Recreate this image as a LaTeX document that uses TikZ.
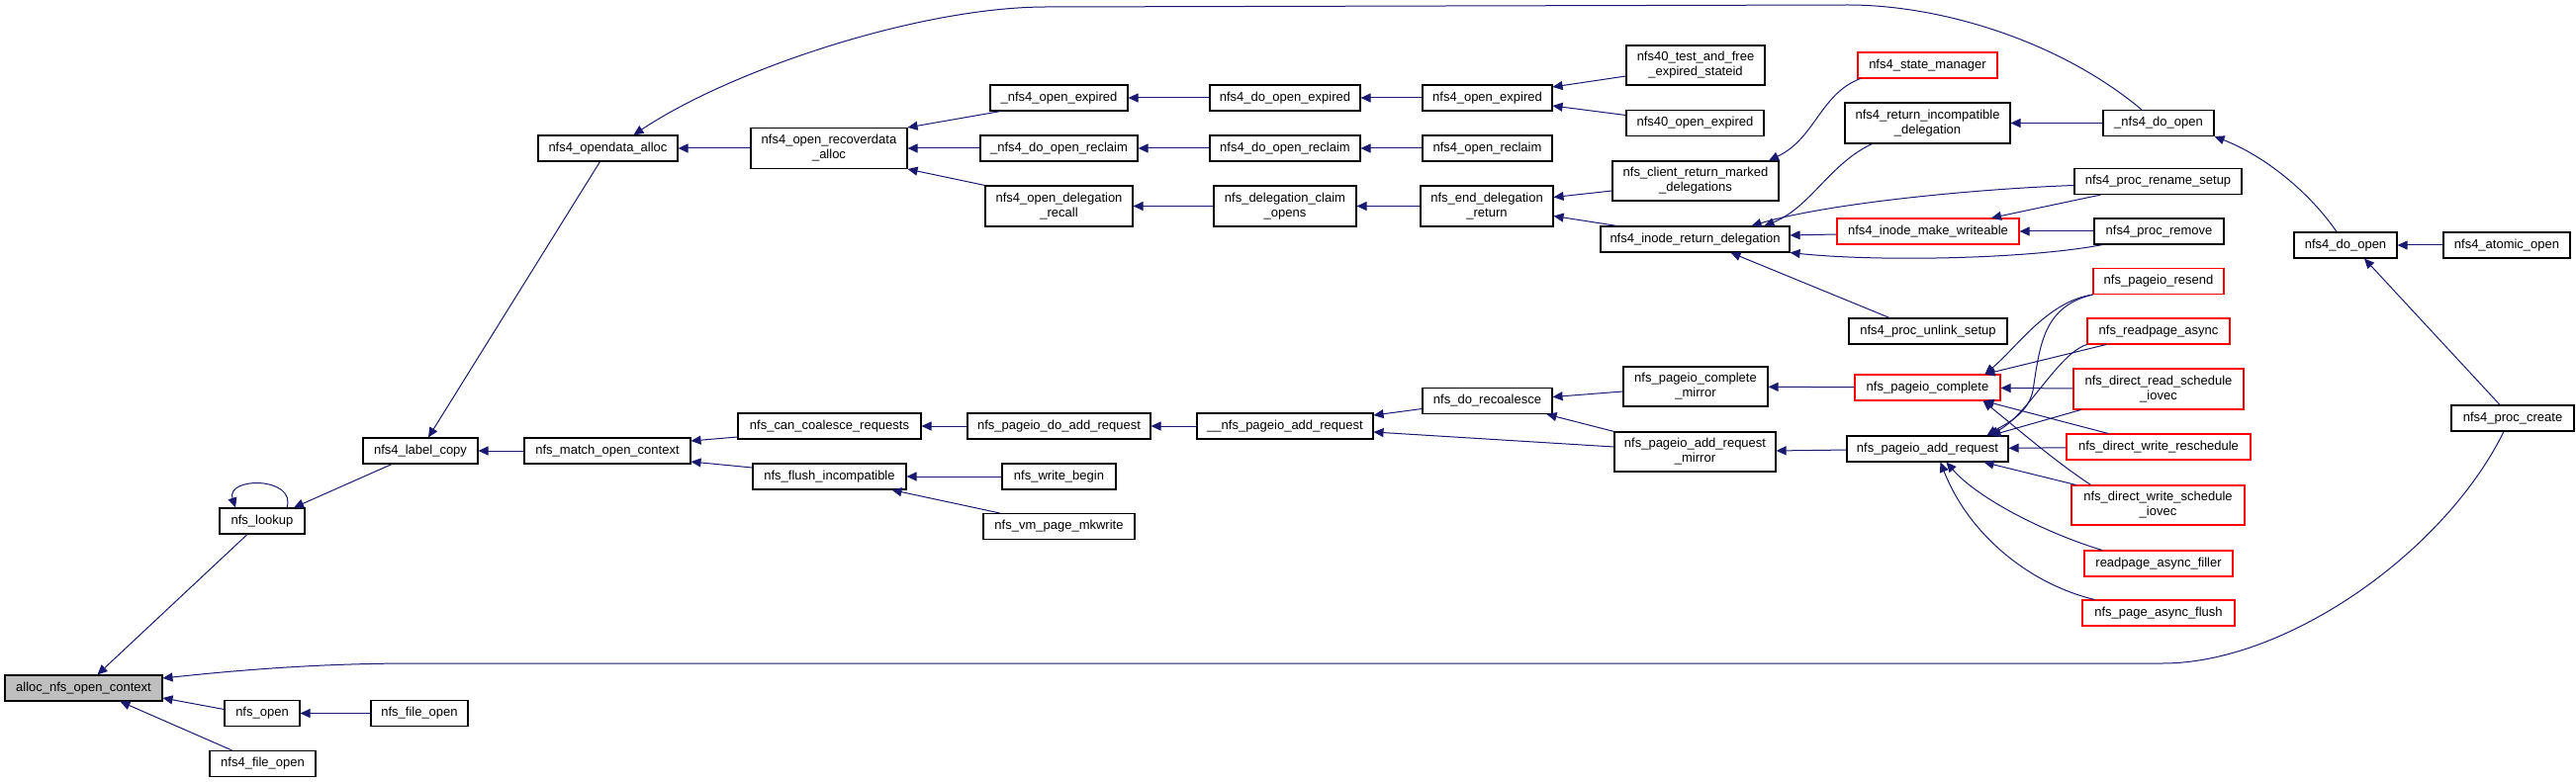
\documentclass[tikz,border=0pt]{standalone}
\usepackage{fontspec}
\setmainfont{Liberation Sans}
\usetikzlibrary{arrows.meta}
\definecolor{edgec}{RGB}{25,25,112}
\definecolor{redc}{RGB}{255,0,0}
\definecolor{grayc}{RGB}{191,191,191}
\begin{document}
\begin{tikzpicture}[x=1pt,y=-1pt,
  fn/.style={draw=black,line width=1.1pt,fill=white,inner sep=0pt,minimum height=26pt,
    font=\fontsize{13}{15}\selectfont,align=center},
  fntwo/.style={fn,minimum height=41pt},
  redbox/.style={draw=redc},
  arr/.style={draw=edgec,line width=1pt,-{Triangle[length=10pt,width=9pt]}}]
\useasboundingbox[fill=white] (0,0) rectangle (2604,791);
% nodes
\node[fn,fill=grayc,minimum width=159pt] (alloc) at (84.5,696) {alloc\_nfs\_open\_context};
\node[fn,minimum width=86pt] (lookup) at (265,527) {nfs\_lookup};
\node[fn,minimum width=76pt] (nopen) at (265,721.5) {nfs\_open};
\node[fn,minimum width=107pt] (nffo) at (265.5,772.5) {nfs4\_file\_open};
\node[fn,minimum width=98pt] (fopen) at (424,721.5) {nfs\_file\_open};
\node[fn,minimum width=116pt] (label) at (425,456) {nfs4\_label\_copy};
\node[fn,minimum width=141pt] (opendata) at (614.5,150) {nfs4\_opendata\_alloc};
\node[fn,minimum width=168pt] (match) at (614,456) {nfs\_match\_open\_context};
\node[fntwo,minimum width=158pt] (recover) at (838,150) {nfs4\_open\_recoverdata\\\_alloc};
\node[fn,minimum width=185pt] (canco) at (838.5,431) {nfs\_can\_coalesce\_requests};
\node[fn,minimum width=155pt] (flush) at (838.5,482) {nfs\_flush\_incompatible};
\node[fn,minimum width=139pt] (oexp) at (1070.5,99) {\_nfs4\_open\_expired};
\node[fn,minimum width=159pt] (doreclaim) at (1070.5,150) {\_nfs4\_do\_open\_reclaim};
\node[fntwo,minimum width=149pt] (delrecall) at (1070.5,208.5) {nfs4\_open\_delegation\\\_recall};
\node[fn,minimum width=185pt] (pdoadd) at (1070.5,431) {nfs\_pageio\_do\_add\_request};
\node[fn,minimum width=115pt] (wbegin) at (1070.5,482) {nfs\_write\_begin};
\node[fn,minimum width=153pt] (mkwrite) at (1070.5,532.5) {nfs\_vm\_page\_mkwrite};
\node[fn,minimum width=152pt] (doexp) at (1299,99) {nfs4\_do\_open\_expired};
\node[fn,minimum width=152pt] (dorecl) at (1299,150) {nfs4\_do\_open\_reclaim};
\node[fntwo,minimum width=144pt] (claim) at (1299,208.5) {nfs\_delegation\_claim\\\_opens};
\node[fn,minimum width=178pt] (ppadd) at (1299,431) {\_\_nfs\_pageio\_add\_request};
\node[fn,minimum width=131pt] (oexpb) at (1503.5,99) {nfs4\_open\_expired};
\node[fn,minimum width=131pt] (oreclaim) at (1503.5,150) {nfs4\_open\_reclaim};
\node[fntwo,minimum width=134pt] (enddel) at (1503,208.5) {nfs\_end\_delegation\\\_return};
\node[fn,minimum width=131pt] (recoal) at (1503.5,405.5) {nfs\_do\_recoalesce};
\node[fntwo,minimum width=140pt,minimum height=40pt] (testfree) at (1714,66) {nfs40\_test\_and\_free\\\_expired\_stateid};
\node[fn,minimum width=139pt] (oexpc) at (1713.5,124.5) {nfs40\_open\_expired};
\node[fntwo,minimum width=168pt,minimum height=40pt] (client) at (1714,183) {nfs\_client\_return\_marked\\\_delegations};
\node[fn,minimum width=191pt] (inoderet) at (1713.5,242) {nfs4\_inode\_return\_delegation};
\node[fntwo,minimum width=146pt,minimum height=40pt] (compmirror) at (1714,391) {nfs\_pageio\_complete\\\_mirror};
\node[fntwo,minimum width=163pt,minimum height=40pt] (addmirror) at (1713.5,457) {nfs\_pageio\_add\_request\\\_mirror};
\node[fn,redbox,minimum width=141pt] (statemgr) at (1948.5,66) {nfs4\_state\_manager};
\node[fntwo,minimum width=167pt] (retincomp) at (1948.5,124.5) {nfs4\_return\_incompatible\\\_delegation};
\node[fn,redbox,minimum width=184pt] (makewr) at (1949,234) {nfs4\_inode\_make\_writeable};
\node[fn,minimum width=160pt] (unlink) at (1949,335) {nfs4\_proc\_unlink\_setup};
\node[fn,redbox,minimum width=147pt] (pcomplete) at (1948.5,392) {nfs\_pageio\_complete};
\node[fn,minimum width=163pt] (paddreq) at (1948.5,454) {nfs\_pageio\_add\_request};
\node[fn,minimum width=112pt] (dopenu) at (2182,124.5) {\_nfs4\_do\_open};
\node[fn,minimum width=169pt] (rename) at (2181.5,183.5) {nfs4\_proc\_rename\_setup};
\node[fn,minimum width=131pt] (premove) at (2182.5,234) {nfs4\_proc\_remove};
\node[fn,redbox,minimum width=132pt] (resend) at (2182,284.5) {nfs\_pageio\_resend};
\node[fn,redbox,minimum width=144pt] (readasync) at (2182,335) {nfs\_readpage\_async};
\node[fntwo,redbox,minimum width=172pt] (dread) at (2182,393.5) {nfs\_direct\_read\_schedule\\\_iovec};
\node[fn,redbox,minimum width=186pt] (dwresched) at (2182,452) {nfs\_direct\_write\_reschedule};
\node[fntwo,redbox,minimum width=175pt,minimum height=40pt] (dwsched) at (2181.5,511) {nfs\_direct\_write\_schedule\\\_iovec};
\node[fn,redbox,minimum width=150pt] (rpfiller) at (2182,570) {readpage\_async\_filler};
\node[fn,redbox,minimum width=154pt] (pflush) at (2182,620) {nfs\_page\_async\_flush};
\node[fn,minimum width=104pt] (dofour) at (2371,248) {nfs4\_do\_open};
\node[fn,minimum width=128pt] (atomic) at (2534,248) {nfs4\_atomic\_open};
\node[fn,minimum width=124pt] (pcreate) at (2540,423) {nfs4\_proc\_create};
% edges (arrowhead at the called function)
\draw[arr] ([xshift=-15pt]lookup.south) -- ([xshift=14pt]alloc.north);
\draw[arr] ([xshift=-9pt]pcreate.south) .. controls (2470,560) and (2310,671) .. (2186,671) -- (420,671) .. controls (320,671) and (240,678) .. ([yshift=10pt]alloc.east);
\draw[arr] ([yshift=4pt]nopen.west) -- ([yshift=-10pt]alloc.east);
\draw[arr] ([xshift=-31pt]nffo.north) -- ([xshift=37pt]alloc.south);
\draw[arr] (fopen) -- (nopen);
\draw[arr] ([xshift=-29pt]label.south) -- ([xshift=32pt]lookup.north);
\draw[arr] ([xshift=25pt]lookup.north) .. controls (300,482) and (228,482) .. ([xshift=-27pt]lookup.north);
\draw[arr] ([xshift=-8pt]opendata.south) -- ([xshift=8pt]label.north);
\draw[arr] (match) -- (label);
\draw[arr] (recover) -- (opendata);
\draw[arr] ([xshift=-17pt]dopenu.north) .. controls (2080,40) and (1960,5) .. (1868,5) -- (1058,7) .. controls (930,7) and (740,70) .. ([xshift=26pt]opendata.north);
\draw[arr] ([xshift=11pt]oexp.south west) -- (recover.north east);
\draw[arr] (doreclaim) -- (recover);
\draw[arr] (delrecall.north west) -- (recover.south east);
\draw[arr] (doexp) -- (oexp);
\draw[arr] (dorecl) -- (doreclaim);
\draw[arr] (claim) -- (delrecall);
\draw[arr] (oexpb) -- (doexp);
\draw[arr] (oreclaim) -- (dorecl);
\draw[arr] (enddel) -- (claim);
\draw[arr] ([yshift=-11pt]testfree.west) -- ([yshift=11pt]oexpb.east);
\draw[arr] ([yshift=8pt]oexpc.west) -- ([yshift=-8pt]oexpb.east);
\draw[arr] ([yshift=-10pt]client.west) -- ([yshift=9pt]enddel.east);
\draw[arr] ([xshift=17pt]inoderet.north west) -- ([yshift=-10pt]enddel.east);
\draw[arr] ([xshift=3pt]statemgr.south west) .. controls (1840,95) and (1835,140) .. ([xshift=74pt]client.north);
\draw[arr] ([xshift=28pt]retincomp.south west) .. controls (1850,165) and (1830,210) .. ([xshift=70pt]inoderet.north);
\draw[arr] ([yshift=-4pt]rename.west) .. controls (2000,191) and (1850,205) .. ([xshift=57pt]inoderet.north);
\draw[arr] ([yshift=-3pt]makewr.west) -- ([yshift=4pt]inoderet.east);
\draw[arr] ([xshift=-57pt]premove.south) .. controls (2050,262) and (1900,265) .. (inoderet.south east);
\draw[arr] ([xshift=-39pt]unlink.north) -- ([xshift=36pt]inoderet.south);
\draw[arr] ([xshift=-58pt]rename.south) -- ([xshift=64pt]makewr.north);
\draw[arr] (premove) -- (makewr);
\draw[arr] (dopenu) -- (retincomp);
\draw[arr] ([xshift=-9pt]dofour.north) .. controls (2335,195) and (2290,158) .. (dopenu.south east);
\draw[arr] (atomic) -- (dofour);
\draw[arr] ([xshift=-13pt]pcreate.north) -- ([xshift=19pt]dofour.south);
\draw[arr] ([yshift=-11pt]canco.west) -- ([yshift=10pt]match.east);
\draw[arr] ([yshift=9pt]flush.west) -- ([yshift=-11pt]match.east);
\draw[arr] (pdoadd) -- (canco);
\draw[arr] (ppadd) -- (pdoadd);
\draw[arr] ([yshift=-8pt]recoal.west) -- ([yshift=11pt]ppadd.east);
\draw[arr] ([yshift=5pt]addmirror.west) -- ([yshift=-6pt]ppadd.east);
\draw[arr] ([yshift=-5pt]compmirror.west) -- ([yshift=4pt]recoal.east);
\draw[arr] (addmirror.north west) -- ([xshift=-6pt]recoal.south east);
\draw[arr] (wbegin) -- (flush);
\draw[arr] ([xshift=-60pt]mkwrite.north) -- ([xshift=63pt]flush.south);
\draw[arr] (pcomplete) -- (compmirror);
\draw[arr] (paddreq) -- (addmirror);
\draw[arr] (resend.south west) .. controls (2070,305) and (2040,350) .. ([xshift=58pt]pcomplete.north);
\draw[arr] (resend.south west) .. controls (2065,310) and (2062,350) .. (2055,395) .. controls (2050,420) and (2025,430) .. ([xshift=60pt]paddreq.north);
\draw[arr] ([xshift=-53pt]readasync.south) -- ([xshift=58pt]pcomplete.north);
\draw[arr] (readasync.south west) .. controls (2080,358) and (2050,420) .. ([xshift=62pt]paddreq.north);
\draw[arr] (dread) -- (pcomplete);
\draw[arr] ([xshift=8pt]dread.south west) -- ([xshift=64pt]paddreq.north);
\draw[arr] ([xshift=-51pt]dwresched.north) -- ([xshift=57pt]pcomplete.south);
\draw[arr] (dwresched) -- (paddreq);
\draw[arr] ([xshift=20pt]dwsched.north west) .. controls (2075,465) and (2035,430) .. ([xshift=56pt]pcomplete.south);
\draw[arr] ([xshift=5pt]dwsched.north west) -- ([xshift=57pt]paddreq.south);
\draw[arr] ([xshift=-57pt]rpfiller.north) .. controls (2070,540) and (2000,505) .. ([xshift=19pt]paddreq.south);
\draw[arr] ([xshift=-65pt]pflush.north) .. controls (2050,590) and (1990,540) .. ([xshift=13pt]paddreq.south);
\end{tikzpicture}
\end{document}
